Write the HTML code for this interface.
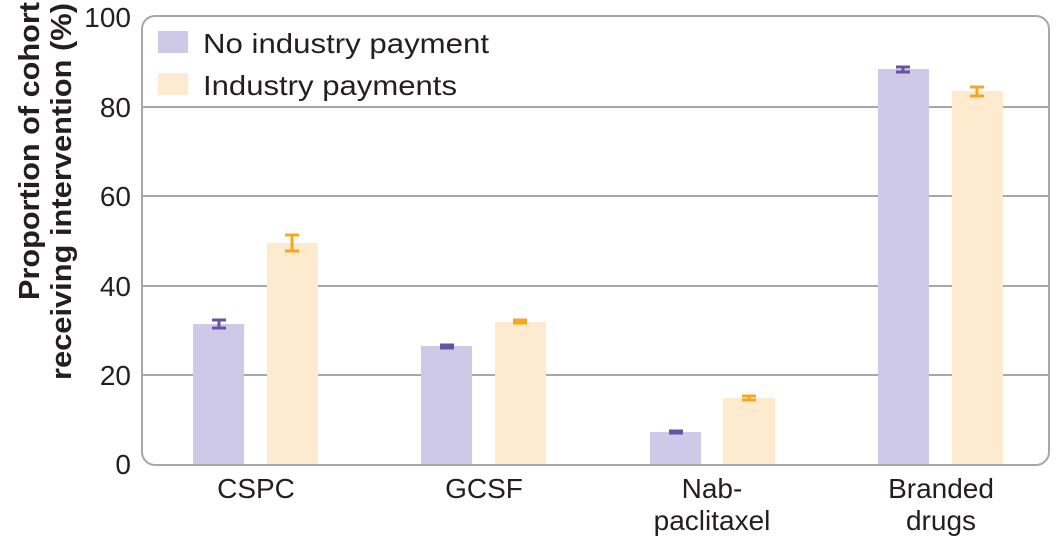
<!DOCTYPE html>
<html><head><meta charset="utf-8"><style>
body{margin:0;background:#fff;}
svg text{font-family:"Liberation Sans",sans-serif;fill:#231f20;}
</style></head><body>
<svg width="1058" height="538" viewBox="0 0 1058 538" xmlns="http://www.w3.org/2000/svg">
<g stroke="#a7a7a9" stroke-width="2">
<line x1="142" y1="375" x2="1049" y2="375"/>
<line x1="142" y1="286" x2="1049" y2="286"/>
<line x1="142" y1="196" x2="1049" y2="196"/>
<line x1="142" y1="107" x2="1049" y2="107"/>
</g>
<rect x="142" y="16" width="907" height="449" rx="13" fill="none" stroke="#a7a7a9" stroke-width="2"/>
<g fill="#cdc9e6">
<rect x="193" y="324" width="51" height="140"/>
<rect x="421" y="346" width="51" height="118"/>
<rect x="650" y="432" width="51" height="32"/>
<rect x="878" y="69" width="51" height="395"/>
</g>
<g fill="#feebcf">
<rect x="267" y="243" width="51" height="221"/>
<rect x="495" y="322" width="51" height="142"/>
<rect x="723" y="398" width="52" height="66"/>
<rect x="952" y="91" width="51" height="373"/>
</g>
<g stroke="#6653a6" stroke-width="3" fill="none">
<path d="M212 320h14M212 328h14M219 320v8"/>
<path d="M440 345h14M440 348h14M447 345v3"/>
<path d="M669 431h14M669 433h14M676 431v2"/>
<path d="M896 67h14M896 72h14M903 67v5"/>
</g>
<g stroke="#f5a623" stroke-width="3" fill="none">
<path d="M285 235h14M285 251h14M292 235v16"/>
<path d="M513 320h14M513 323h14M520 320v3"/>
<path d="M742 396h14M742 400h14M749 396v4"/>
<path d="M970 87h14M970 96h14M977 87v9"/>
</g>
<rect x="158" y="31" width="30" height="22" fill="#cdc9e6"/>
<rect x="158" y="73" width="30" height="22" fill="#feebcf"/>
<text x="203" y="53" font-size="28" textLength="286" lengthAdjust="spacingAndGlyphs">No industry payment</text>
<text x="203" y="95" font-size="28" textLength="254" lengthAdjust="spacingAndGlyphs">Industry payments</text>
<g font-size="28" text-anchor="end">
<text x="131" y="474">0</text>
<text x="131" y="385">20</text>
<text x="131" y="296">40</text>
<text x="131" y="206">60</text>
<text x="131" y="117">80</text>
<text x="131" y="27">100</text>
</g>
<g font-size="28" text-anchor="middle">
<text x="256" y="498">CSPC</text>
<text x="484" y="498">GCSF</text>
<text x="712" y="498">Nab-</text>
<text x="712" y="530">paclitaxel</text>
<text x="941" y="498">Branded</text>
<text x="941" y="530">drugs</text>
</g>
<g font-size="29" font-weight="bold">
<text transform="translate(39,300) rotate(-90)" textLength="298" lengthAdjust="spacingAndGlyphs">Proportion of cohort</text>
<text transform="translate(71,380) rotate(-90)" textLength="377" lengthAdjust="spacingAndGlyphs">receiving intervention (%)</text>
</g>
</svg>
</body></html>
